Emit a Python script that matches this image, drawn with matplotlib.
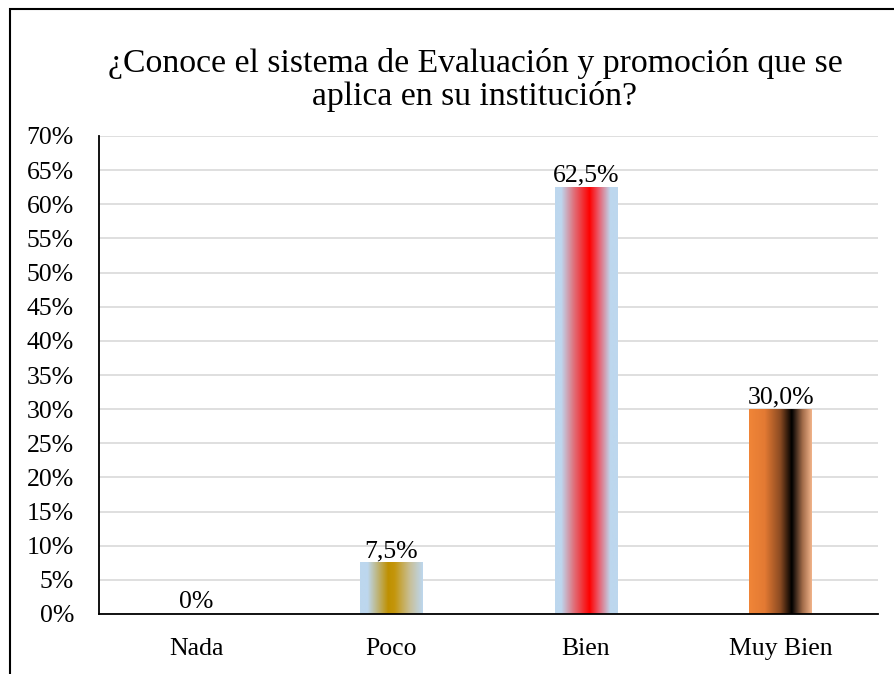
import matplotlib.pyplot as plt
import numpy as np
from matplotlib.colors import LinearSegmentedColormap
from matplotlib.patches import Rectangle

plt.rcParams['font.family'] = ['Liberation Serif', 'DejaVu Serif']

categories = ["Nada", "Poco", "Bien", "Muy Bien"]
values = [0.0, 7.5, 62.5, 30.0]
value_labels = ["0%", "7,5%", "62,5%", "30,0%"]
yticks = list(range(0, 75, 5))

# gradient stops per bar (left -> right)
gradients = [
    [(0.0, "#BDD7EE"), (1.0, "#BDD7EE")],
    [(0.0, "#BDD7EE"), (0.12, "#BDD7EE"), (0.45, "#BF9000"), (0.55, "#C4960C"),
     (0.8, "#C8C09A"), (1.0, "#BDD7EE")],
    [(0.0, "#BDD7EE"), (0.1, "#BDD7EE"), (0.3, "#E0707A"), (0.55, "#FF0000"),
     (0.7, "#E86070"), (0.88, "#BDD7EE"), (1.0, "#BDD7EE")],
    [(0.0, "#F08538"), (0.25, "#E37A33"), (0.5, "#8A4A22"), (0.68, "#000000"),
     (0.85, "#A06A48"), (1.0, "#F2B48A")],
]

fig = plt.figure(figsize=(8.94, 6.74), dpi=100)
ax = fig.add_axes([99 / 894, 1 - 614 / 674, (878 - 99) / 894, (614 - 136) / 674])

bar_w = 0.32
grad = np.linspace(0, 1, 256).reshape(1, -1)
for i, (v, stops) in enumerate(zip(values, gradients)):
    if v <= 0:
        continue
    cmap = LinearSegmentedColormap.from_list(f"g{i}", stops)
    ax.imshow(grad, cmap=cmap, aspect='auto', zorder=2,
              extent=(i - bar_w / 2, i + bar_w / 2, 0, v))

for i, (v, lab) in enumerate(zip(values, value_labels)):
    ax.text(i, v + 0.1, lab, ha='center', va='bottom', fontsize=18.5, zorder=3)

ax.set_xlim(-0.5, len(categories) - 0.5)
ax.set_ylim(0, 70)
ax.set_xticks(range(len(categories)))
ax.set_xticklabels(categories, fontsize=18.5)
ax.set_yticks(yticks)
ax.set_yticklabels([f"{t}%" for t in yticks], fontsize=18.5)
ax.tick_params(length=0)
ax.tick_params(axis='y', pad=18)
ax.tick_params(axis='x', pad=17)
ax.yaxis.grid(True, color='#D9D9D9', linewidth=1.2)
ax.set_axisbelow(True)
for s in ['top', 'right']:
    ax.spines[s].set_visible(False)
ax.spines['left'].set_color('black')
ax.spines['bottom'].set_color('black')
ax.spines['bottom'].set_linewidth(1.3)
ax.spines['left'].set_linewidth(1.3)

fig.text(475 / 894, 1 - 80 / 674, "¿Conoce el sistema de Evaluación y promoción que se\naplica en su institución?",
         ha='center', va='center', fontsize=24.3, linespacing=1.1)

# chart frame
fig.patches.append(Rectangle((10 / 894, -0.01), 1.0, 1 - 9 / 674 + 0.01, transform=fig.transFigure,
                             fill=False, edgecolor='black', linewidth=1.5))

fig.savefig('out.png', dpi=100)
